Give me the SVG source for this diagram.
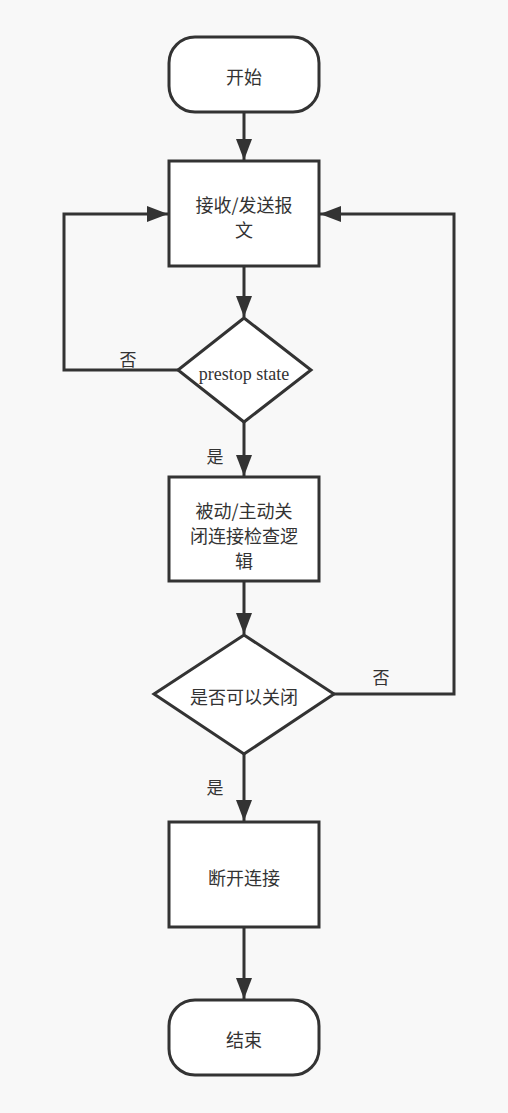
<svg xmlns="http://www.w3.org/2000/svg" width="508" height="1113" viewBox="0 0 508 1113">
<style>
.n{fill:#fff;stroke:#333;stroke-width:3}
.c{fill:none;stroke:#333;stroke-width:3}
.t{font-family:"Noto Sans CJK SC","Noto Sans",sans-serif;font-size:18px;fill:#333;text-anchor:middle}
.s{font-family:"Liberation Serif",serif;font-size:18px;fill:#333;text-anchor:middle}
.l{font-family:"Noto Sans CJK SC",serif;font-size:17px;fill:#333;text-anchor:middle}
</style>
<defs>
<marker id="a" markerUnits="userSpaceOnUse" markerWidth="21" markerHeight="16" refX="21" refY="8" orient="auto">
<path d="M0,0 L21,8 L0,16 Z" fill="#333"/>
</marker>
</defs>
<rect width="508" height="1113" fill="#f8f8f8"/>
<g id="connectors">
<path class="c" d="M244,112 V160" marker-end="url(#a)"/>
<path class="c" d="M244,266 V317" marker-end="url(#a)"/>
<path class="c" d="M178,370 H64 V214 H168" marker-end="url(#a)"/>
<path class="c" d="M244,422 V476" marker-end="url(#a)"/>
<path class="c" d="M244,581 V634" marker-end="url(#a)"/>
<path class="c" d="M334,694 H454 V214 H320" marker-end="url(#a)"/>
<path class="c" d="M244,754 V821" marker-end="url(#a)"/>
<path class="c" d="M244,927 V999" marker-end="url(#a)"/>
<text class="l" x="128" y="366">否</text>
<text class="l" x="215" y="463">是</text>
<text class="l" x="381" y="684">否</text>
<text class="l" x="215" y="794">是</text>
</g>
<g id="start">
<rect class="n" x="169" y="37" width="150" height="75" rx="26" ry="26"/>
<text class="t" x="244" y="84">开始</text>
</g>
<g id="recv">
<rect class="n" x="169" y="161" width="150" height="105"/>
<text class="t" x="244" y="212">接收/发送报</text>
<text class="t" x="244" y="237">文</text>
</g>
<g id="prestop">
<path class="n" d="M244,318 L311,370 L244,422 L178,370 Z"/>
<text class="s" x="244" y="380">prestop state</text>
</g>
<g id="check">
<rect class="n" x="169" y="477" width="150" height="104"/>
<text class="t" x="244" y="518">被动/主动关</text>
<text class="t" x="244" y="543">闭连接检查逻</text>
<text class="t" x="244" y="568">辑</text>
</g>
<g id="canclose">
<path class="n" d="M244,635 L334,694 L244,754 L154,694 Z"/>
<text class="t" x="244" y="704">是否可以关闭</text>
</g>
<g id="disconnect">
<rect class="n" x="169" y="822" width="150" height="105"/>
<text class="t" x="244" y="885">断开连接</text>
</g>
<g id="end">
<rect class="n" x="169" y="1000" width="150" height="75" rx="26" ry="26"/>
<text class="t" x="244" y="1047">结束</text>
</g>
</svg>
